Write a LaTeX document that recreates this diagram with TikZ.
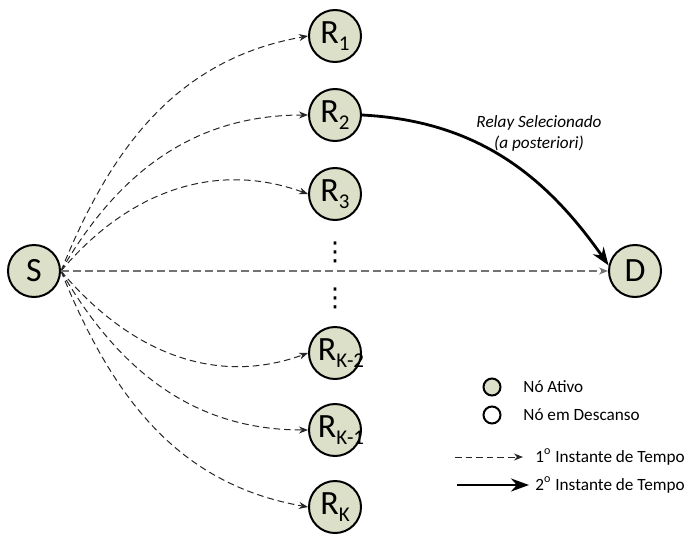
\documentclass[tikz,border=0pt]{standalone}
\usepackage{fontspec}
\setmainfont{Carlito}
\newfontfamily\dotsfont{DejaVu Sans}
\usepackage{tikz}
\usetikzlibrary{arrows.meta,positioning}
\definecolor{nodefill}{RGB}{221,224,200}
\newcommand{\rsub}[1]{\raisebox{-0.45ex}{\fontsize{10.5}{10}\selectfont #1}}
\tikzset{
  relay/.style={circle, draw=black, line width=1pt, fill=nodefill, inner sep=0pt,
                minimum size=26pt, font=\fontsize{17}{17}\selectfont},
  legdot/.style={circle, draw=black, line width=1pt, inner sep=0pt, minimum size=8.5pt},
  legtext/.style={anchor=west, font=\fontsize{8.6}{10}\selectfont, inner sep=0pt},
  vdotsnode/.style={inner sep=0pt, font=\dotsfont\fontsize{13}{13}\selectfont},
  hop/.style={-{Stealth[length=4.5pt,width=3.5pt]}, dash pattern=on 3.3pt off 2pt,
              line width=0.5pt, black!85},
  directlink/.style={-{Stealth[length=4.5pt,width=3.5pt]}, dash pattern=on 4pt off 2pt,
              line width=0.9pt, black!55},
  bestlink/.style={-{Stealth[length=9pt,width=6.5pt]}, line width=1.4pt},
}

\begin{document}
\begin{tikzpicture}[x=0.5pt, y=-0.5pt]
\useasboundingbox (0,0) rectangle (689,535);
% nodes
\node[relay] (S) at (34,271) {S};
\node[relay] (D) at (635,271) {D};
\node[relay] (R1) at (335,36) {\makebox[0pt]{R\rsub{1}}};
\node[relay] (R2) at (335,115) {\makebox[0pt]{R\rsub{2}}};
\node[relay] (R3) at (335,194) {\makebox[0pt]{R\rsub{3}}};
\node[vdotsnode] (dotsA) at (335,252) {⋮};
\node[vdotsnode] (dotsB) at (335,298) {⋮};
\node[relay] (Rk2) at (335,353) {\makebox[0pt]{\hspace{6pt}R\rsub{K-2}}};
\node[relay] (Rk1) at (335,430) {\makebox[0pt]{\hspace{6pt}R\rsub{K-1}}};
\node[relay] (Rk) at (335,507) {\makebox[0pt]{R\rsub{K}}};
% first time slot
\draw[hop] (S.east) to[out=68, in=190] (R1.west);
\draw[hop] (S.east) to[out=60, in=180] (R2.west);
\draw[hop] (S.east) to[out=50, in=160] (R3.west);
\draw[hop] (S.east) to[out=-50, in=200] (Rk2.west);
\draw[hop] (S.east) to[out=-60, in=180] (Rk1.west);
\draw[hop] (S.east) to[out=-68, in=170] (Rk.west);
\draw[directlink] (S.east) -- (D.west);
% second time slot
\draw[bestlink] (R2.east) to[out=-3, in=125] (D.168);
\node[font=\fontsize{8.6}{10.5}\selectfont\itshape, align=center] (sel) at (539,133)
  {Relay Selecionado\\(a posteriori)};
% legend
\node[legdot, fill=nodefill] (legA) at (492,387) {};
\node[legtext] (legAt) at (523,387) {Nó Ativo};
\node[legdot] (legB) at (492,415) {};
\node[legtext] (legBt) at (523,415) {Nó em Descanso};
\coordinate (l1a) at (455,457);
\coordinate (l1b) at (523,457);
\draw[hop] (l1a) -- (l1b);
\node[legtext] (legCt) at (535,457) {1\textsuperscript{o} Instante de Tempo};
\coordinate (l2a) at (457,485);
\coordinate (l2b) at (529,485);
\draw[bestlink] (l2a) -- (l2b);
\node[legtext] (legDt) at (535,485) {2\textsuperscript{o} Instante de Tempo};
\end{tikzpicture}
\end{document}
